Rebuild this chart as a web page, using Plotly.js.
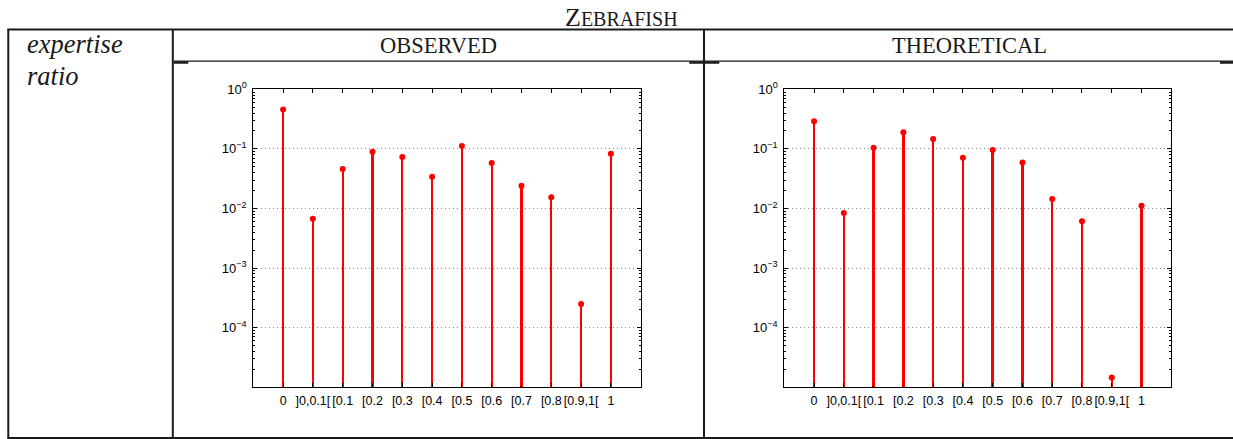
<!DOCTYPE html>
<html>
<head>
<meta charset="utf-8">
<script src="https://cdn.plot.ly/plotly-3.0.1.min.js"></script>
<style>html,body{margin:0;padding:0;background:#fff;}#chart{width:1233px;height:439px;}</style>
</head>
<body>
<div id="chart"></div>
<script>
// ---- data ----
const categories = ["0", "]0,0.1[", "[0.1", "[0.2", "[0.3", "[0.4", "[0.5", "[0.6", "[0.7", "[0.8", "[0.9,1[", "1"];
const observed = [0.46, 0.0067, 0.046, 0.090, 0.073, 0.034, 0.112, 0.058, 0.024, 0.0155, 0.00025, 0.083];
const theoretical = [0.29, 0.0084, 0.105, 0.19, 0.147, 0.071, 0.096, 0.059, 0.0144, 0.0061, 0.0000146, 0.0111];
const yTickVals = [1, 0.1, 0.01, 0.001, 0.0001];
const yTickText = ["10<sup>0</sup>", "10<sup>\u22121</sup>", "10<sup>\u22122</sup>", "10<sup>\u22123</sup>", "10<sup>\u22124</sup>"];
const panelTitles = ["OBSERVED", "THEORETICAL"];
const figureTitle = "Z<span style='font-size:20px'>EBRAFISH</span>";
const rowLabel = ["expertise", "ratio"];

// ---- layout helpers ----
const W = 1233, H = 439;
const px = x => x / W;
const py = y => 1 - y / H;
const RED = "#ff0000";

function stemTraces(vals, xa, ya) {
  return [
    {type: "bar", x: categories, y: vals, width: 0.08, xaxis: xa, yaxis: ya,
     marker: {color: RED, line: {width: 0}}, hoverinfo: "skip", showlegend: false},
    {type: "scatter", mode: "markers", x: categories, y: vals, xaxis: xa, yaxis: ya,
     marker: {color: RED, size: 6}, showlegend: false}
  ];
}

const data = [].concat(stemTraces(observed, "x", "y"), stemTraces(theoretical, "x2", "y2"));

function xAxis(domain, anchor) {
  return {domain: domain, anchor: anchor, type: "category", categoryorder: "array", categoryarray: categories,
    range: [-1, categories.length], showline: true, linecolor: "#000", linewidth: 1, mirror: "ticks",
    ticks: "inside", ticklen: 4, tickcolor: "#000", showgrid: false, zeroline: false, tickangle: 0,
    tickfont: {family: "Liberation Sans, Arial, sans-serif", size: 12.5, color: "#000"}, ticklabelstandoff: 2};
}
function yAxis(domain, anchor) {
  return {domain: domain, anchor: anchor, type: "log", range: [-5, 0],
    tickmode: "array", tickvals: yTickVals, ticktext: yTickText,
    showline: true, linecolor: "#000", linewidth: 1, mirror: "allticks",
    ticks: "inside", ticklen: 4, tickcolor: "#000",
    showgrid: true, gridcolor: "#8a8a8a", griddash: "1px,3px", gridwidth: 1, zeroline: false,
    minor: {dtick: "D1", ticks: "inside", ticklen: 2, tickcolor: "#000", showgrid: false},
    tickfont: {family: "Liberation Sans, Arial, sans-serif", size: 13, color: "#000"}, ticklabelstandoff: 3};
}

const yDom = [py(387.3), py(89.3)];
const serif = "Liberation Serif, Times New Roman, serif";

function hline(x0, x1, y, w) {
  return {type: "line", xref: "paper", yref: "paper", x0: px(x0), x1: px(x1), y0: py(y), y1: py(y), line: {color: "#1a1a1a", width: w}};
}
function vline(x, y0, y1, w) {
  return {type: "line", xref: "paper", yref: "paper", x0: px(x), x1: px(x), y0: py(y0), y1: py(y1), line: {color: "#1a1a1a", width: w}};
}

const layout = {
  width: W, height: H, margin: {l: 0, r: 0, t: 0, b: 0},
  paper_bgcolor: "#fff", plot_bgcolor: "#fff", showlegend: false, bargap: 0,
  xaxis: xAxis([px(253.3), px(640.7)], "y"),
  yaxis: yAxis(yDom, "x"),
  xaxis2: xAxis([px(784.3), px(1171.3)], "y2"),
  yaxis2: yAxis(yDom, "x2"),
  shapes: [
    hline(7.3, 1233, 29.5, 2.2),
    hline(7.3, 1233, 438, 2.2),
    vline(8.3, 29.5, 438, 2),
    vline(172.8, 29.5, 438, 2),
    vline(704, 29.5, 438, 2),
    hline(173.8, 1233, 61.2, 1.3),
    hline(173.8, 188.3, 62.5, 2.5),
    hline(689.3, 719.3, 62.5, 2.5),
    hline(1220, 1233, 62.5, 2.5)
  ],
  annotations: [
    {text: figureTitle, xref: "paper", yref: "paper", x: px(621.5), y: py(17.5), xanchor: "center", yanchor: "middle",
     showarrow: false, font: {family: serif, size: 26, color: "#1a1a1a"}},
    {text: panelTitles[0], xref: "paper", yref: "paper", x: px(438.5), y: py(45), xanchor: "center", yanchor: "middle",
     showarrow: false, font: {family: serif, size: 22.5, color: "#1a1a1a"}},
    {text: panelTitles[1], xref: "paper", yref: "paper", x: px(969), y: py(45), xanchor: "center", yanchor: "middle",
     showarrow: false, font: {family: serif, size: 22.5, color: "#1a1a1a"}},
    {text: "<i>" + rowLabel[0] + "</i>", xref: "paper", yref: "paper", x: px(25), y: py(44), xanchor: "left", yanchor: "middle",
     showarrow: false, font: {family: serif, size: 26.5, color: "#1a1a1a"}},
    {text: "<i>" + rowLabel[1] + "</i>", xref: "paper", yref: "paper", x: px(25), y: py(76), xanchor: "left", yanchor: "middle",
     showarrow: false, font: {family: serif, size: 26.5, color: "#1a1a1a"}}
  ]
};

Plotly.newPlot("chart", data, layout, {staticPlot: true, displayModeBar: false});
</script>
</body>
</html>
